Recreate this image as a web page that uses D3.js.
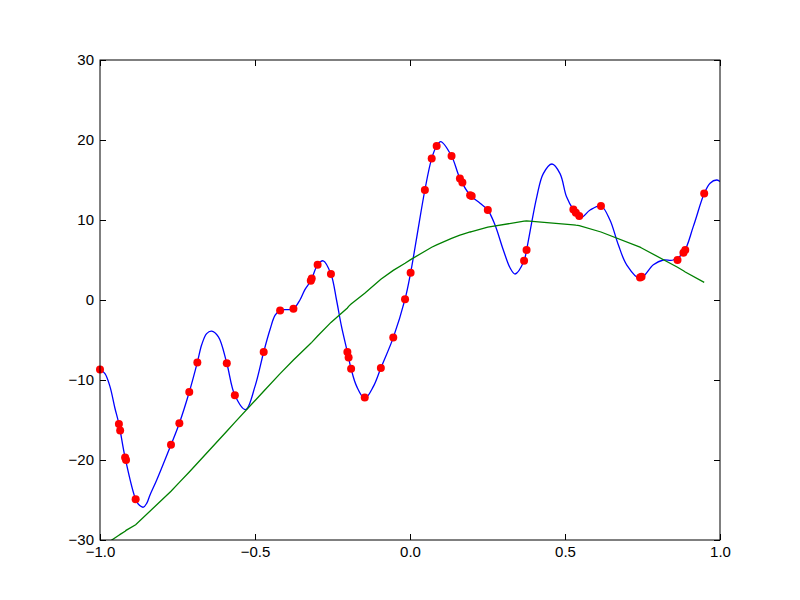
<html>
<head>
<meta charset="utf-8">
<style>
  body { margin: 0; background: #fff; }
  text { font-family: "Liberation Sans", Arial, sans-serif; }
</style>
</head>
<body>
<svg width="800" height="600"></svg>
<script src="https://d3js.org/d3.v7.min.js"></script>
<script>
var sampleX = [-1.0, -0.939, -0.935, -0.919, -0.916, -0.885, -0.771, -0.744, -0.712, -0.686,
  -0.591, -0.565, -0.472, -0.419, -0.376, -0.320, -0.317, -0.298, -0.255, -0.202,
  -0.198, -0.190, -0.146, -0.094, -0.054, -0.016, 0.002, 0.048, 0.070, 0.086,
  0.134, 0.161, 0.169, 0.194, 0.199, 0.251, 0.368, 0.376, 0.527, 0.535,
  0.546, 0.616, 0.742, 0.747, 0.863, 0.882, 0.888, 0.949]
var sampleY = [-8.7, -15.5, -16.3, -19.7, -20.0, -24.9, -18.1, -15.4, -11.5, -7.8,
  -7.9, -11.9, -6.5, -1.3, -1.1, 2.4, 2.7, 4.4, 3.25, -6.5,
  -7.2, -8.6, -12.2, -8.5, -4.7, 0.1, 3.4, 13.75, 17.7, 19.25,
  18.0, 15.2, 14.7, 13.1, 13.0, 11.25, 4.9, 6.25, 11.3, 10.9,
  10.5, 11.75, 2.8, 2.9, 5.0, 5.9, 6.25, 13.3]

// fitted trend (green), at the same x as the samples
var fitY = [-31.0, -29.4, -29.3, -28.9, -28.8, -28.1, -23.9, -22.8, -21.5, -20.4,
  -16.4, -15.3, -11.4, -9.2, -7.5, -5.4, -5.3, -4.5, -2.8, -1.0,
  -0.8, -0.5, 0.85, 2.6, 3.7, 4.6, 5.05, 6.1, 6.6, 6.9,
  7.7, 8.1, 8.2, 8.5, 8.55, 9.1, 9.85, 9.9, 9.4, 9.35,
  9.3, 8.5, 6.6, 6.5, 4.1, 3.65, 3.5, 2.2]

// interpolating curve (blue)
var curveX = [-1.0, -0.984, -0.968, -0.952, -0.939, -0.919, -0.885, -0.872, -0.860, -0.849, -0.839, -0.817,
  -0.771, -0.744, -0.712, -0.686, -0.672, -0.656, -0.640, -0.618, -0.591, -0.565,
  -0.530, -0.500, -0.472, -0.452, -0.435, -0.419, -0.398, -0.376, -0.355, -0.339,
  -0.320, -0.298, -0.280, -0.255, -0.237, -0.221, -0.202, -0.190, -0.172, -0.146,
  -0.118, -0.094, -0.054, -0.016, 0.002, 0.022, 0.048, 0.070, 0.086, 0.099,
  0.134, 0.161, 0.194, 0.226, 0.251, 0.274, 0.301, 0.323, 0.339, 0.368,
  0.376, 0.409, 0.430, 0.458, 0.484, 0.505, 0.527, 0.551, 0.581, 0.616,
  0.645, 0.672, 0.699, 0.742, 0.785, 0.817, 0.849, 0.882, 0.914, 0.949,
  0.968, 0.989, 1.0]
var curveY = [-8.7, -9.2, -10.8, -13.5, -15.5, -19.7, -24.9, -25.7, -25.9, -25.4, -24.4, -22.5,
  -18.1, -15.4, -11.5, -7.8, -5.6, -4.2, -3.9, -4.6, -7.9, -11.9,
  -13.7, -10.8, -6.5, -3.75, -1.9, -1.3, -1.2, -1.1, 0.0, 1.3,
  2.4, 4.4, 4.9, 3.25, 0.0, -3.3, -6.5, -8.6, -10.8, -12.3,
  -10.8, -8.5, -4.7, 0.1, 3.4, 7.9, 13.75, 17.7, 19.25, 19.8,
  18.0, 15.2, 13.1, 12.1, 11.25, 9.4, 6.25, 4.0, 3.25, 4.9,
  6.25, 12.9, 15.8, 17.0, 15.8, 12.9, 11.3, 10.3, 11.25, 11.75,
  10.0, 6.9, 4.4, 2.7, 4.4, 5.0, 5.0, 5.9, 9.2, 13.3,
  14.6, 15.0, 14.8]

var xTicks = [-1.0, -0.5, 0.0, 0.5, 1.0]
var yTicks = [-30, -20, -10, 0, 10, 20, 30]

var margin = { left: 100, top: 60, right: 80, bottom: 60 }
var width = 800 - margin.left - margin.right
var height = 600 - margin.top - margin.bottom

var svg = d3.select('svg')
var g = svg.append('g').attr('transform', 'translate(' + margin.left + ',' + margin.top + ')')

var x = d3.scaleLinear().domain([-1, 1]).range([0, width])
var y = d3.scaleLinear().domain([-30, 30]).range([height, 0])

g.append('clipPath').attr('id', 'clip')
  .append('rect').attr('width', width).attr('height', height)

var plot = g.append('g').attr('clip-path', 'url(#clip)')

var blueLine = d3.line()
  .x(function (d) { return x(d[0]) })
  .y(function (d) { return y(d[1]) })
  .curve(d3.curveCatmullRom.alpha(0.5))
var greenLine = d3.line()
  .x(function (d) { return x(d[0]) })
  .y(function (d) { return y(d[1]) })

plot.append('path')
  .datum(curveX.map(function (v, i) { return [v, curveY[i]] }))
  .attr('d', blueLine)
  .attr('fill', 'none')
  .attr('stroke', '#0000ff')
  .attr('stroke-width', 1.3)

plot.append('path')
  .datum(sampleX.map(function (v, i) { return [v, fitY[i]] }))
  .attr('d', greenLine)
  .attr('fill', 'none')
  .attr('stroke', '#008000')
  .attr('stroke-width', 1.3)

g.append('g').selectAll('circle')
  .data(sampleX.map(function (v, i) { return [v, sampleY[i]] }))
  .enter().append('circle')
  .attr('cx', function (d) { return x(d[0]) })
  .attr('cy', function (d) { return y(d[1]) })
  .attr('r', 4)
  .attr('fill', '#ff0000')

// axes: ticks point inward on all four sides
function styleAxis(sel) {
  sel.select('.domain').remove()
  sel.selectAll('line').attr('stroke', '#000').attr('stroke-width', 1)
  sel.selectAll('text').attr('font-size', 15).attr('fill', '#000')
}
g.append('g').attr('transform', 'translate(0,' + height + ')')
  .call(d3.axisBottom(x).tickValues(xTicks).tickFormat(d3.format('.1f')).tickSize(-6).tickPadding(6))
  .call(styleAxis)
g.append('g')
  .call(d3.axisLeft(y).tickValues(yTicks).tickFormat(d3.format('d')).tickSize(-6).tickPadding(6))
  .call(styleAxis)
g.append('g')
  .call(d3.axisTop(x).tickValues(xTicks).tickFormat('').tickSize(-6))
  .call(styleAxis)
g.append('g').attr('transform', 'translate(' + width + ',0)')
  .call(d3.axisRight(y).tickValues(yTicks).tickFormat('').tickSize(-6))
  .call(styleAxis)

g.append('rect')
  .attr('width', width).attr('height', height)
  .attr('fill', 'none').attr('stroke', '#000').attr('stroke-width', 1)
</script>
</body>
</html>
